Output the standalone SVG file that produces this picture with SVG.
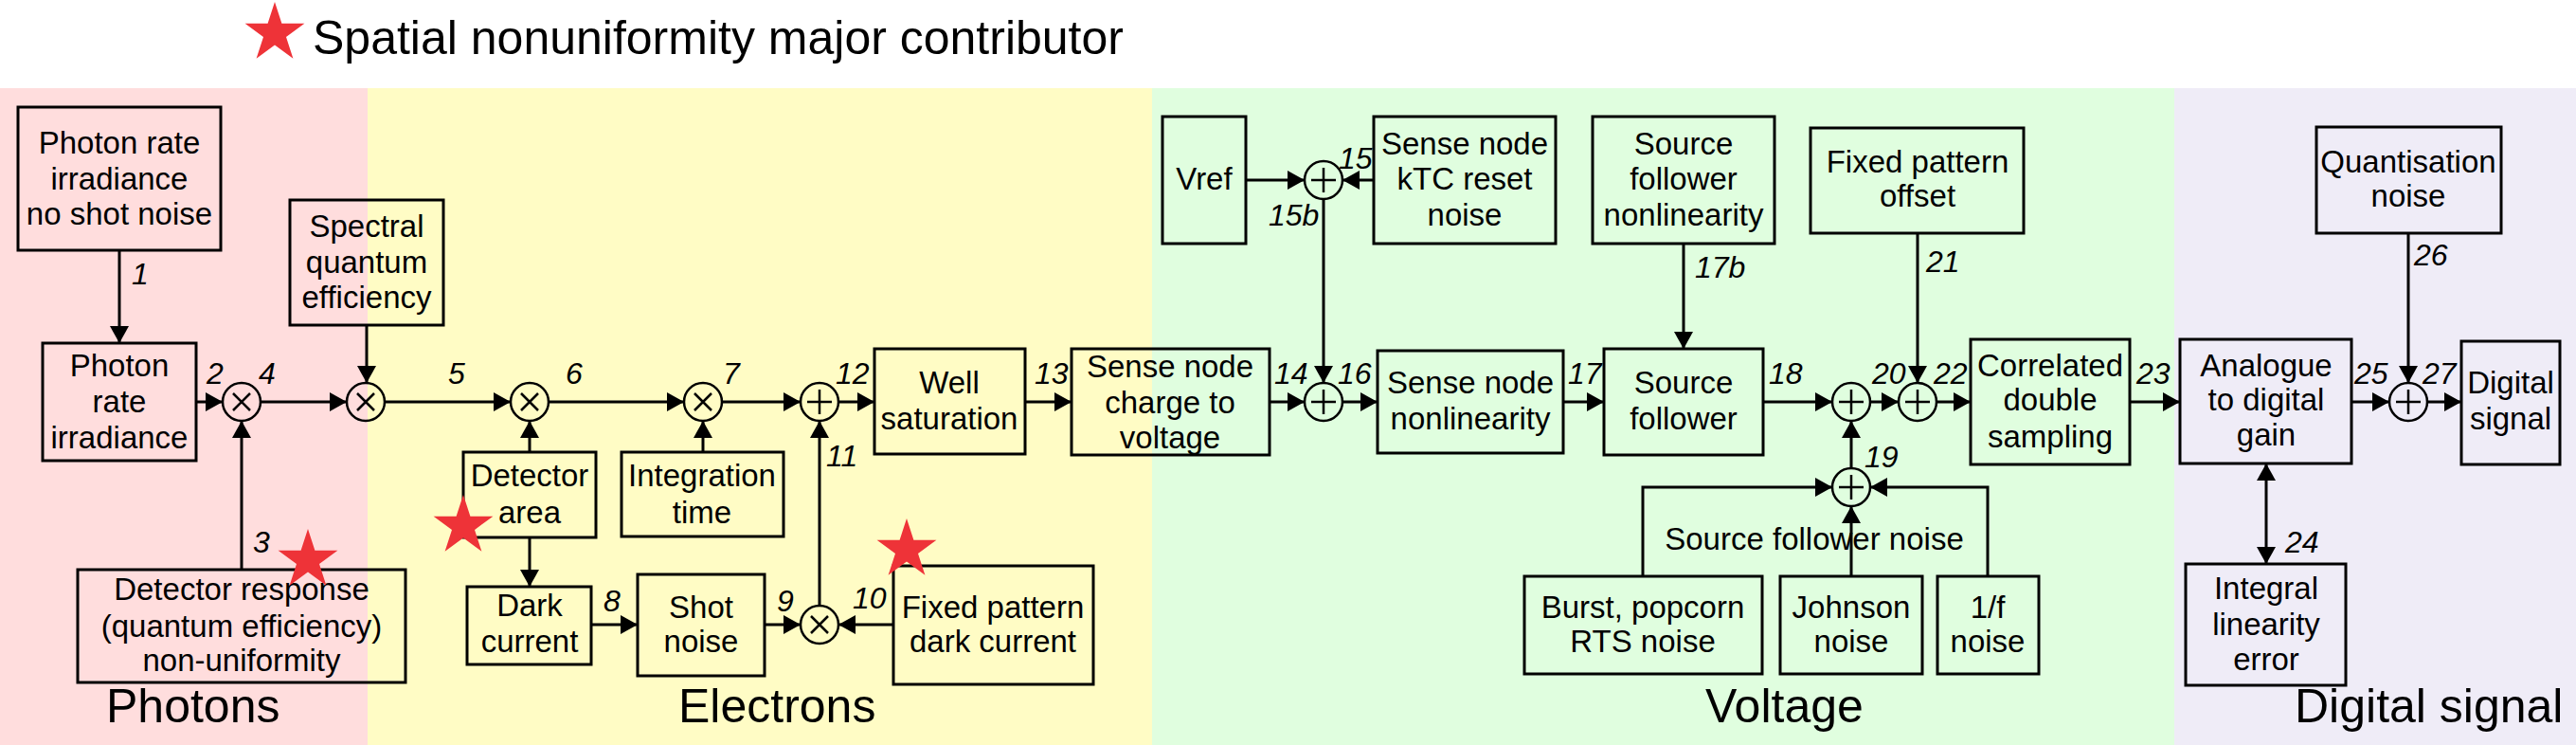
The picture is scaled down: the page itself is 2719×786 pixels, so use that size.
<svg xmlns="http://www.w3.org/2000/svg" width="2719" height="786" viewBox="0 0 2719 786">
<defs>
<marker id="ah" markerUnits="userSpaceOnUse" markerWidth="18" markerHeight="20" refX="18" refY="10" orient="auto-start-reverse">
<path d="M0,0 L18,10 L0,20 z" fill="#000"/>
</marker>
<polygon id="star" points="0,-33 7.4,-10.2 31.4,-10.2 12,3.9 19.4,26.7 0,12.6 -19.4,26.7 -12,3.9 -31.4,-10.2 -7.4,-10.2" fill="#EE3338"/>
</defs>
<style>
.box{fill:none;stroke:#000;stroke-width:3}
.op{fill:none;stroke:#000;stroke-width:2.5}
.t{font-family:"Liberation Sans",Arial,sans-serif;font-size:33px;text-anchor:middle;fill:#000}
.n{font-family:"Liberation Sans",Arial,sans-serif;font-size:32px;font-style:italic;fill:#000}
.big{font-family:"Liberation Sans",Arial,sans-serif;font-size:50px;fill:#000}
.c{fill:none;stroke:#000;stroke-width:3;marker-end:url(#ah)}
.l{fill:none;stroke:#000;stroke-width:3}
</style>
<rect x="0" y="0" width="2719" height="786" fill="#fff"/>
<g id="bands">
<rect x="0" y="93" width="388" height="693" fill="#FFDDDD"/>
<rect x="388" y="93" width="828" height="693" fill="#FFFCC5"/>
<rect x="1216" y="93" width="1079" height="693" fill="#E0FEDF"/>
<rect x="2295" y="93" width="424" height="693" fill="#EFECF7"/>
</g>
<g id="legend">
<use href="#star" x="290" y="35"/>
<text class="big" x="330" y="57">Spatial nonuniformity major contributor</text>
</g>
<g id="domain-labels">
<text class="big" x="112" y="762">Photons</text>
<text class="big" x="716" y="762">Electrons</text>
<text class="big" x="1800" y="762">Voltage</text>
<text class="big" x="2422" y="762">Digital signal</text>
</g>
<g id="connectors">
<line class="c" x1="126" y1="264" x2="126" y2="362"/>
<line class="c" x1="207" y1="424" x2="235" y2="424"/>
<line class="c" x1="255" y1="601" x2="255" y2="444"/>
<line class="c" x1="275" y1="424" x2="366" y2="424"/>
<line class="c" x1="387" y1="343" x2="387" y2="404"/>
<line class="c" x1="406" y1="424" x2="539" y2="424"/>
<line class="c" x1="559" y1="477" x2="559" y2="444"/>
<line class="c" x1="579" y1="424" x2="722" y2="424"/>
<line class="c" x1="559" y1="567" x2="559" y2="619"/>
<line class="c" x1="742" y1="477" x2="742" y2="444"/>
<line class="c" x1="762" y1="424" x2="845" y2="424"/>
<line class="c" x1="624" y1="659" x2="673" y2="659"/>
<line class="c" x1="807" y1="659" x2="845" y2="659"/>
<line class="c" x1="943" y1="659" x2="885" y2="659"/>
<line class="c" x1="865" y1="639" x2="865" y2="444"/>
<line class="c" x1="885" y1="424" x2="923" y2="424"/>
<line class="c" x1="1082" y1="424" x2="1131" y2="424"/>
<line class="c" x1="1315" y1="190" x2="1377" y2="190"/>
<line class="c" x1="1450" y1="190" x2="1417" y2="190"/>
<line class="c" x1="1397" y1="210" x2="1397" y2="404"/>
<line class="c" x1="1340" y1="424" x2="1377" y2="424"/>
<line class="c" x1="1417" y1="424" x2="1454" y2="424"/>
<line class="c" x1="1650" y1="424" x2="1693" y2="424"/>
<line class="c" x1="1777" y1="257" x2="1777" y2="368"/>
<line class="c" x1="1861" y1="424" x2="1934" y2="424"/>
<line class="c" x1="1974" y1="424" x2="2004" y2="424"/>
<line class="c" x1="2024" y1="246" x2="2024" y2="404"/>
<line class="c" x1="2044" y1="424" x2="2080" y2="424"/>
<line class="c" x1="1954" y1="494" x2="1954" y2="444"/>
<polyline class="c" points="1734,608 1734,514 1934,514"/>
<line class="c" x1="1954" y1="608" x2="1954" y2="534"/>
<polyline class="c" points="2098,608 2098,514 1974,514"/>
<line class="c" x1="2248" y1="424" x2="2301" y2="424"/>
<line class="c" x1="2392" y1="489" x2="2392" y2="595" style="marker-start:url(#ah)"/>
<line class="c" x1="2482" y1="424" x2="2522" y2="424"/>
<line class="c" x1="2542" y1="246" x2="2542" y2="404"/>
<line class="c" x1="2562" y1="424" x2="2598" y2="424"/>
<text class="n" x="139" y="300">1</text>
<text class="n" x="218" y="405">2</text>
<text class="n" x="267" y="583">3</text>
<text class="n" x="273" y="405">4</text>
<text class="n" x="473" y="405">5</text>
<text class="n" x="597" y="405">6</text>
<text class="n" x="763" y="405">7</text>
<text class="n" x="637" y="645">8</text>
<text class="n" x="820" y="645">9</text>
<text class="n" x="900" y="642">10</text>
<text class="n" x="872" y="492">11</text>
<text class="n" x="882" y="405">12</text>
<text class="n" x="1092" y="405">13</text>
<text class="n" x="1345" y="405">14</text>
<text class="n" x="1413" y="178">15</text>
<text class="n" x="1339" y="238">15b</text>
<text class="n" x="1412" y="405">16</text>
<text class="n" x="1655" y="405">17</text>
<text class="n" x="1789" y="293">17b</text>
<text class="n" x="1867" y="405">18</text>
<text class="n" x="1968" y="493">19</text>
<text class="n" x="1976" y="405">20</text>
<text class="n" x="2033" y="287">21</text>
<text class="n" x="2041" y="405">22</text>
<text class="n" x="2255" y="405">23</text>
<text class="n" x="2412" y="583">24</text>
<text class="n" x="2485" y="405">25</text>
<text class="n" x="2548" y="280">26</text>
<text class="n" x="2557" y="405">27</text>
<text class="t" x="1915" y="580">Source follower noise</text>
</g>
<g id="photon-source"><rect class="box" x="19" y="113" width="214" height="151"/><text class="t" x="126" y="162">Photon rate</text><text class="t" x="126" y="200">irradiance</text><text class="t" x="126" y="237">no shot noise</text></g>
<g id="photon-rate"><rect class="box" x="45" y="362" width="162" height="124"/><text class="t" x="126" y="397">Photon</text><text class="t" x="126" y="435">rate</text><text class="t" x="126" y="473">irradiance</text></g>
<g id="m1"><circle class="op" cx="255" cy="424" r="20"/><path class="op" d="M246,415 L264,433 M264,415 L246,433"/></g>
<g id="spectral-qe"><rect class="box" x="306" y="211" width="162" height="132"/><text class="t" x="387" y="250">Spectral</text><text class="t" x="387" y="288">quantum</text><text class="t" x="387" y="325">efficiency</text></g>
<g id="m2"><circle class="op" cx="386" cy="424" r="20"/><path class="op" d="M377,415 L395,433 M395,415 L377,433"/></g>
<g id="detector-response"><rect class="box" x="82" y="601" width="346" height="119"/><text class="t" x="255" y="633">Detector response</text><text class="t" x="255" y="672">(quantum efficiency)</text><text class="t" x="255" y="708">non-uniformity</text><use href="#star" x="325" y="591"/></g>
<g id="m3"><circle class="op" cx="559" cy="424" r="20"/><path class="op" d="M550,415 L568,433 M568,415 L550,433"/></g>
<g id="detector-area"><rect class="box" x="489" y="477" width="140" height="90"/><text class="t" x="559" y="513">Detector</text><text class="t" x="559" y="552">area</text><use href="#star" x="489" y="555"/></g>
<g id="dark-current"><rect class="box" x="493" y="619" width="131" height="82"/><text class="t" x="559" y="650">Dark</text><text class="t" x="559" y="688">current</text></g>
<g id="shot-noise"><rect class="box" x="673" y="606" width="134" height="107"/><text class="t" x="740" y="652">Shot</text><text class="t" x="740" y="688">noise</text></g>
<g id="m4"><circle class="op" cx="742" cy="424" r="20"/><path class="op" d="M733,415 L751,433 M751,415 L733,433"/></g>
<g id="integration-time"><rect class="box" x="656" y="477" width="171" height="89"/><text class="t" x="741" y="513">Integration</text><text class="t" x="741" y="552">time</text></g>
<g id="s1"><circle class="op" cx="865" cy="424" r="20"/><path class="op" d="M852,424 L878,424 M865,411 L865,437"/></g>
<g id="m5"><circle class="op" cx="865" cy="659" r="20"/><path class="op" d="M856,650 L874,668 M874,650 L856,668"/></g>
<g id="fp-dark-current"><rect class="box" x="943" y="597" width="211" height="125"/><text class="t" x="1048" y="652">Fixed pattern</text><text class="t" x="1048" y="688">dark current</text><use href="#star" x="957" y="580"/></g>
<g id="well-saturation"><rect class="box" x="923" y="368" width="159" height="111"/><text class="t" x="1002" y="415">Well</text><text class="t" x="1002" y="453">saturation</text></g>
<g id="sense-node-cv"><rect class="box" x="1131" y="368" width="209" height="112"/><text class="t" x="1235" y="398">Sense node</text><text class="t" x="1235" y="436">charge to</text><text class="t" x="1235" y="473">voltage</text></g>
<g id="vref"><rect class="box" x="1227" y="123" width="88" height="134"/><text class="t" x="1271" y="200">Vref</text></g>
<g id="s15"><circle class="op" cx="1397" cy="190" r="20"/><path class="op" d="M1384,190 L1410,190 M1397,177 L1397,203"/></g>
<g id="ktc-noise"><rect class="box" x="1450" y="123" width="192" height="134"/><text class="t" x="1546" y="163">Sense node</text><text class="t" x="1546" y="200">kTC reset</text><text class="t" x="1546" y="238">noise</text></g>
<g id="s16"><circle class="op" cx="1397" cy="424" r="20"/><path class="op" d="M1384,424 L1410,424 M1397,411 L1397,437"/></g>
<g id="sn-nonlinearity"><rect class="box" x="1454" y="370" width="196" height="108"/><text class="t" x="1552" y="415">Sense node</text><text class="t" x="1552" y="453">nonlinearity</text></g>
<g id="source-follower"><rect class="box" x="1693" y="368" width="168" height="112"/><text class="t" x="1777" y="415">Source</text><text class="t" x="1777" y="453">follower</text></g>
<g id="sf-nonlinearity"><rect class="box" x="1681" y="123" width="192" height="134"/><text class="t" x="1777" y="163">Source</text><text class="t" x="1777" y="200">follower</text><text class="t" x="1777" y="238">nonlinearity</text></g>
<g id="s20"><circle class="op" cx="1954" cy="424" r="20"/><path class="op" d="M1941,424 L1967,424 M1954,411 L1954,437"/></g>
<g id="s19"><circle class="op" cx="1954" cy="514" r="20"/><path class="op" d="M1941,514 L1967,514 M1954,501 L1954,527"/></g>
<g id="burst-noise"><rect class="box" x="1609" y="608" width="251" height="103"/><text class="t" x="1734" y="652">Burst, popcorn</text><text class="t" x="1734" y="688">RTS noise</text></g>
<g id="johnson-noise"><rect class="box" x="1879" y="608" width="150" height="103"/><text class="t" x="1954" y="652">Johnson</text><text class="t" x="1954" y="688">noise</text></g>
<g id="flicker-noise"><rect class="box" x="2045" y="608" width="107" height="103"/><text class="t" x="2098" y="652">1/f</text><text class="t" x="2098" y="688">noise</text></g>
<g id="fp-offset"><rect class="box" x="1911" y="135" width="225" height="111"/><text class="t" x="2024" y="182">Fixed pattern</text><text class="t" x="2024" y="218">offset</text></g>
<g id="s22"><circle class="op" cx="2024" cy="424" r="20"/><path class="op" d="M2011,424 L2037,424 M2024,411 L2024,437"/></g>
<g id="cds"><rect class="box" x="2080" y="358" width="168" height="132"/><text class="t" x="2164" y="397">Correlated</text><text class="t" x="2164" y="433">double</text><text class="t" x="2164" y="472">sampling</text></g>
<g id="adc-gain"><rect class="box" x="2301" y="358" width="181" height="131"/><text class="t" x="2392" y="397">Analogue</text><text class="t" x="2392" y="433">to digital</text><text class="t" x="2392" y="470">gain</text></g>
<g id="inl-error"><rect class="box" x="2307" y="595" width="169" height="128"/><text class="t" x="2392" y="632">Integral</text><text class="t" x="2392" y="670">linearity</text><text class="t" x="2392" y="707">error</text></g>
<g id="s27"><circle class="op" cx="2542" cy="424" r="20"/><path class="op" d="M2529,424 L2555,424 M2542,411 L2542,437"/></g>
<g id="quantisation-noise"><rect class="box" x="2445" y="134" width="195" height="112"/><text class="t" x="2542" y="182">Quantisation</text><text class="t" x="2542" y="218">noise</text></g>
<g id="digital-signal"><rect class="box" x="2598" y="360" width="104" height="130"/><text class="t" x="2650" y="415">Digital</text><text class="t" x="2650" y="453">signal</text></g>
</svg>
